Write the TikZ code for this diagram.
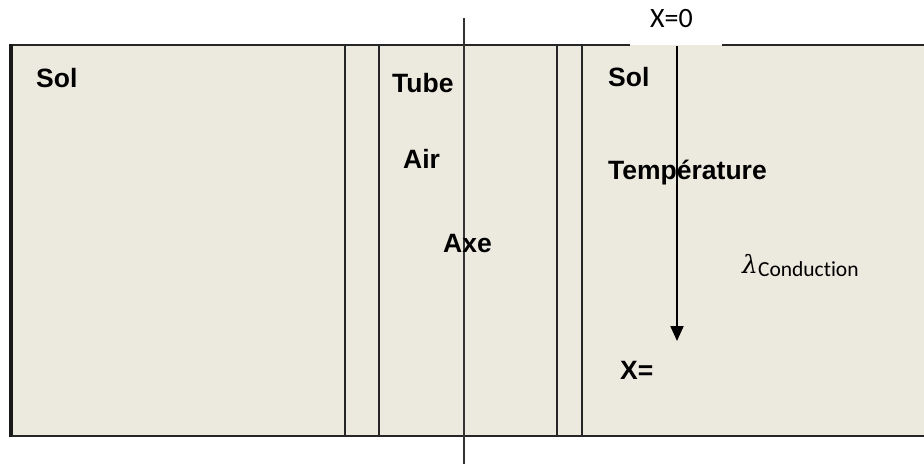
\documentclass[tikz,border=0pt]{standalone}
\usepackage{fontspec}
\setmainfont{Liberation Sans}
\newfontfamily\carlito[Ligatures={NoCommon,NoRare}]{Carlito}
\newfontfamily\greekit{DejaVu Serif}[ItalicFont={DejaVu Serif Italic}]
\usetikzlibrary{arrows.meta}
\definecolor{soil}{RGB}{236,233,223}
\tikzset{
  wall/.style={line width=2pt, draw=black!85},
  lbl/.style={anchor=base west, inner sep=0pt, font=\fontsize{26.5}{31}\selectfont\bfseries},
  thin/.style={anchor=base west, inner sep=0pt, font=\carlito\fontsize{28}{32}\selectfont},
}
\begin{document}
\begin{tikzpicture}[x=1pt,y=-1pt]
\useasboundingbox (0,0) rectangle (924,464);
% ground block
\fill[soil] (12,45) rectangle (924,436);
% outer borders (top border interrupted around the origin label)
\coordinate (tl) at (12,45);
\coordinate (bl) at (12,436);
\coordinate (br) at (924,436);
\coordinate (tr) at (924,45);
\coordinate (g1) at (630,45);
\coordinate (g2) at (722,45);
\draw[wall] (g1) -- (tl);
\draw[line width=4pt, draw=black!90] (11,44) -- (11,437);
\draw[wall] (bl) -- (br);
\draw[wall] (g2) -- (tr);
% tube walls
\foreach \x/\n in {345/w1,379/w2,557/w3,582/w4}{
  \coordinate (\n t) at (\x,45);
  \coordinate (\n b) at (\x,436);
  \draw[wall] (\n t) -- (\n b);
}
% tube axis
\coordinate (axt) at (464,18);
\coordinate (axb) at (464,464);
\draw[line width=1.6pt, draw=black!80] (axt) -- (axb);
% depth arrow
\coordinate (x0) at (677,46);
\coordinate (xe) at (677,341);
\draw[line width=2pt, -{Triangle[length=15pt,width=13pt]}] (x0) -- (xe);
% labels
\node[lbl] (sol1) at (36,87) {Sol};
\node[lbl] (tube) at (392,92) {Tube};
\node[lbl] (air) at (403,168) {Air};
\node[lbl] (axe) at (443,252) {Axe};
\node[lbl] (sol2) at (608,86) {Sol};
\node[lbl] (temp) at (608,179) {Température};
\node[lbl] (xeq) at (620,379) {X=};
\node[thin] (xzero) at (650,27) {X=0};
\node[anchor=base west, inner sep=0pt] (lam) at (742,273)
  {\greekit\itshape\fontsize{25}{30}\selectfont λ\carlito\upshape\fontsize{21.5}{24}\selectfont\raisebox{-3pt}{Conduction}};
\end{tikzpicture}
\end{document}
